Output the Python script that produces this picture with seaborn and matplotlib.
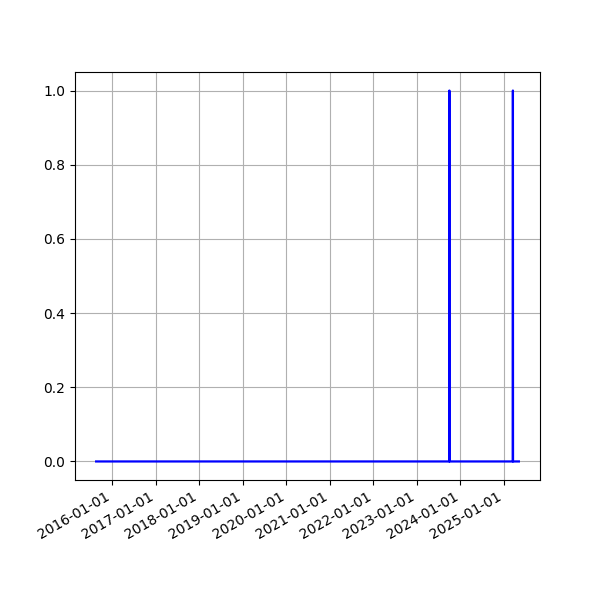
import matplotlib
matplotlib.use('Agg')
import matplotlib.pyplot as plt
import matplotlib.dates as mdates
import pandas as pd
import seaborn as sns

# Key dates of the series (flat at 0 except one-day spikes)
dates = ['2015-08-19', '2023-09-29', '2023-09-30', '2023-10-01',
         '2025-03-15', '2025-03-16', '2025-03-17', '2025-05-05']
values = [0, 0, 1, 0, 0, 1, 0, 0]

df = pd.DataFrame({'date': pd.to_datetime(dates), 'value': values})

fig, ax = plt.subplots(figsize=(6, 6), dpi=100)
sns.lineplot(data=df, x='date', y='value', color='blue', linewidth=1.6, ax=ax)
ax.set_xlabel('')
ax.set_ylabel('')
ax.xaxis.set_major_locator(mdates.YearLocator())
ax.xaxis.set_major_formatter(mdates.DateFormatter('%Y-%m-%d'))
ax.grid(True)
fig.autofmt_xdate()

plt.savefig('out.png')
plt.close()
